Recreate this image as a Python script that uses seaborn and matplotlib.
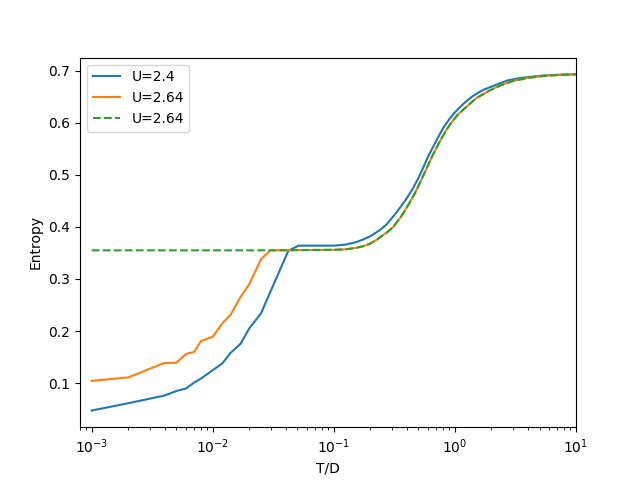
import matplotlib
matplotlib.use("Agg")
import matplotlib.pyplot as plt
import seaborn as sns

# U=2.4 (blue)
t_u24 = [0.001, 0.002, 0.004, 0.005, 0.006, 0.007, 0.008, 0.01, 0.012, 0.014,
         0.017, 0.02, 0.025, 0.042, 0.051, 0.1, 0.125, 0.154, 0.175, 0.2, 0.24,
         0.273, 0.33, 0.40, 0.45, 0.5, 0.55, 0.6, 0.7, 0.8, 0.9, 1.0, 1.17, 1.4,
         1.71, 2.2, 2.7, 3.5, 5.0, 7.0, 10.0]
s_u24 = [0.0475, 0.0615, 0.0763, 0.085, 0.0898, 0.101, 0.109, 0.125, 0.138, 0.158,
         0.176, 0.205, 0.234, 0.354, 0.364, 0.364, 0.366, 0.371, 0.376, 0.382, 0.394,
         0.405, 0.428, 0.455, 0.474, 0.494, 0.515, 0.535, 0.565, 0.590, 0.607, 0.620,
         0.636, 0.651, 0.663, 0.673, 0.681, 0.686, 0.690, 0.692, 0.693]

# U=2.64 (orange, solid)
t_u264 = [0.001, 0.002, 0.004, 0.005, 0.006, 0.007, 0.008, 0.01, 0.012, 0.014,
          0.017, 0.02, 0.025, 0.03, 0.1, 0.125, 0.154, 0.175, 0.2, 0.225, 0.25,
          0.28, 0.309, 0.36, 0.424, 0.47, 0.52, 0.583, 0.65, 0.75, 0.853, 0.95,
          1.05, 1.25, 1.5, 1.9, 2.4, 3.0, 4.0, 5.5, 7.5, 10.0]
s_u264 = [0.1044, 0.111, 0.139, 0.139, 0.156, 0.160, 0.181, 0.189, 0.215, 0.231,
          0.266, 0.290, 0.338, 0.355, 0.356, 0.357, 0.360, 0.363, 0.368, 0.375, 0.383,
          0.391, 0.400, 0.420, 0.447, 0.466, 0.487, 0.512, 0.536, 0.564, 0.587, 0.602,
          0.615, 0.631, 0.647, 0.661, 0.672, 0.680, 0.686, 0.690, 0.692, 0.693]

# U=2.64 (green, dashed)
t_u264b = [0.001, 0.01, 0.03, 0.1, 0.125, 0.154, 0.175, 0.2, 0.225, 0.25,
           0.28, 0.309, 0.36, 0.424, 0.47, 0.52, 0.583, 0.65, 0.75, 0.853, 0.95,
           1.05, 1.25, 1.5, 1.9, 2.4, 3.0, 4.0, 5.5, 7.5, 10.0]
s_u264b = [0.355, 0.355, 0.355, 0.356, 0.357, 0.360, 0.363, 0.368, 0.375, 0.383,
           0.391, 0.400, 0.420, 0.447, 0.466, 0.487, 0.512, 0.536, 0.564, 0.587, 0.602,
           0.615, 0.631, 0.647, 0.661, 0.672, 0.680, 0.686, 0.690, 0.692, 0.693]

labels = ["U=2.4", "U=2.64", "U=2.64"]

fig, ax = plt.subplots(figsize=(6.4, 4.8), dpi=100)
sns.lineplot(x=t_u24, y=s_u24, ax=ax, color="#1f77b4", label=labels[0],
             sort=False, estimator=None)
sns.lineplot(x=t_u264, y=s_u264, ax=ax, color="#ff7f0e", label=labels[1],
             sort=False, estimator=None)
sns.lineplot(x=t_u264b, y=s_u264b, ax=ax, color="#2ca02c", label=labels[2],
             sort=False, estimator=None, linestyle="--")
ax.lines[2].set_linestyle("--")
ax.set_xscale("log")
ax.set_xlim(10 ** -3.097, 10)
ax.set_ylim(0.0155, 0.725)
ax.set_xlabel("T/D")
ax.set_ylabel("Entropy")
leg = ax.legend(loc="upper left")
for h in leg.get_lines()[2:]:
    h.set_linestyle("--")
fig.savefig("out.png", dpi=100)
